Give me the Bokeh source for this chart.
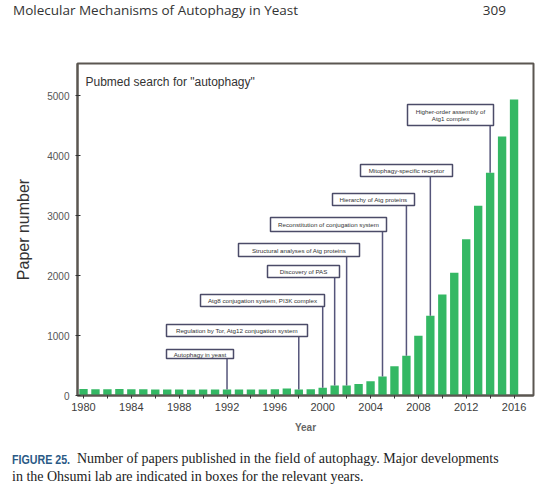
from bokeh.plotting import figure
from bokeh.models import Label, FixedTicker, Range1d, ColumnDataSource, Div
from bokeh.layouts import column
from bokeh.core.properties import value
from bokeh.embed import file_html
from bokeh.resources import INLINE

# ---------------- data ----------------
years = [1980, 1981, 1982, 1983, 1984, 1985, 1986, 1987, 1988, 1989,
         1990, 1991, 1992, 1993, 1994, 1995, 1996, 1997, 1998, 1999,
         2000, 2001, 2002, 2003, 2004, 2005, 2006, 2007, 2008, 2009,
         2010, 2011, 2012, 2013, 2014, 2015, 2016]
papers = [110, 105, 105, 108, 105, 105, 100, 102, 100, 95,
          100, 98, 102, 100, 98, 100, 105, 115, 100, 105,
          130, 167, 167, 192, 238, 318, 486, 664, 994, 1328,
          1683, 2044, 2606, 3161, 3711, 4317, 4933]

x_tick_labels = [1980, 1984, 1988, 1992, 1996, 2000, 2004, 2008, 2012, 2016]
x_minor_ticks = [1982, 1986, 1990, 1994, 1998, 2002, 2006, 2010, 2014]
y_tick_labels = [0, 1000, 2000, 3000, 4000, 5000]

event_years = [1992, 1998, 2000, 2001, 2002, 2005, 2007, 2009, 2014]
event_texts = [
    "Autophagy in yeast",
    "Regulation by Tor, Atg12 conjugation system",
    "Atg8 conjugation system, PI3K complex",
    "Discovery of PAS",
    "Structural analyses of Atg proteins",
    "Reconstitution of conjugation system",
    "Hierarchy of Atg proteins",
    "Mitophagy-specific receptor",
    "Higher-order assembly of\nAtg1 complex",
]

header_left = "Molecular Mechanisms of Autophagy in Yeast"
page_number = "309"
caption_label = "FIGURE 25."
caption_line1 = "Number of papers published in the field of autophagy. Major developments"
caption_line2 = "in the Ohsumi lab are indicated in boxes for the relevant years."

# ---------------- layout (page pixels) ----------------
W = 556
HEADER_H, MAIN_H, CAPTION_H = 36, 404, 60
MAIN_TOP = HEADER_H

PX_1980 = 83.0      # page x of year 1980
PX_PER_YEAR = 11.96
PY_ZERO = 395.0     # page y of value 0
PX_PER_UNIT = 0.06  # pixels per paper

def dx(px):
    return 1980 + (px - PX_1980) / PX_PER_YEAR

def dy(py):
    return (PY_ZERO - py) / PX_PER_UNIT

# annotation boxes: left, right, top, bottom (page px)
box_px = [
    (166, 233, 349, 358),
    (166, 307, 324, 336),
    (200, 324, 294, 306),
    (267, 339, 265, 277),
    (238, 359, 243, 256),
    (270, 386, 217, 231),
    (332, 414, 193, 205),
    (360, 452, 164, 176),
    (407, 493, 104, 125),
]

FRAME_L, FRAME_R, FRAME_T, FRAME_B = 77, 533, 63, 395

# ---------------- header ----------------
hdr = Div(width=W, height=HEADER_H, margin=(0, 0, 0, 0), text=(
    '<div style="position:relative;width:556px;height:36px;font-family:\'Open Sans\';'
    'font-size:13.5px;color:#333333;line-height:1.2;">'
    f'<span style="position:absolute;left:13px;top:2px;white-space:nowrap;">{header_left}</span>'
    f'<span style="position:absolute;right:50px;top:2px;white-space:nowrap;">{page_number}</span>'
    '</div>'))

# ---------------- main chart ----------------
p = figure(width=W, height=MAIN_H, output_backend="svg", toolbar_location=None,
           x_range=Range1d(dx(FRAME_L), dx(FRAME_R)),
           y_range=Range1d(dy(FRAME_B), dy(FRAME_T)),
           min_border_left=FRAME_L, min_border_right=W - FRAME_R,
           min_border_top=FRAME_T - MAIN_TOP,
           min_border_bottom=MAIN_TOP + MAIN_H - FRAME_B)
p.background_fill_color = "white"
p.border_fill_color = "white"
p.xgrid.visible = False
p.ygrid.visible = False
p.outline_line_color = "#5b5651"
p.outline_line_width = 2

AX = "#5b5651"
xa = p.xaxis[0]
xa.ticker = FixedTicker(ticks=x_tick_labels, minor_ticks=x_minor_ticks)
xa.axis_line_color = AX
xa.axis_line_width = 2
xa.major_tick_in = 0
xa.major_tick_out = 3
xa.minor_tick_in = 0
xa.minor_tick_out = 3
xa.major_tick_line_color = "#333333"
xa.minor_tick_line_color = "#333333"
xa.major_label_text_font = "Liberation Sans"
xa.major_label_text_font_size = "11px"
xa.major_label_text_color = "#3d3d3d"
xa.major_label_standoff = 4
xa.axis_label = "Year"
xa.axis_label_text_font = "Liberation Sans"
xa.axis_label_text_font_size = "10px"
xa.axis_label_text_font_style = "bold"
xa.axis_label_text_color = "#666666"
xa.axis_label_standoff = 8

ya = p.yaxis[0]
ya.ticker = FixedTicker(ticks=y_tick_labels)
ya.axis_line_color = AX
ya.axis_line_width = 2
ya.major_tick_in = 3
ya.major_tick_out = 2
ya.minor_tick_line_color = None
ya.major_tick_line_color = "#333333"
ya.major_label_text_font = "Liberation Sans"
ya.major_label_text_font_size = "10px"
ya.major_label_text_color = "#555555"
ya.major_label_standoff = 6
ya.axis_label = "Paper number"
ya.axis_label_text_font = "Liberation Sans"
ya.axis_label_text_font_size = "16px"
ya.axis_label_text_font_style = "normal"
ya.axis_label_text_color = "#333333"
ya.axis_label_standoff = 12

src = ColumnDataSource(dict(x=years, top=papers))
p.vbar(x="x", top="top", width=0.7, source=src, fill_color="#34b864", line_color=None)

# connectors from box bottom down to the bar top of the event year
year_to_val = dict(zip(years, papers))
seg = ColumnDataSource(dict(
    x0=event_years, x1=event_years,
    y0=[dy(b[3]) for b in box_px],
    y1=[year_to_val[y] for y in event_years],
))
p.segment(x0="x0", y0="y0", x1="x1", y1="y1", source=seg, line_color="#55557a", line_width=1.5)

boxes = ColumnDataSource(dict(
    left=[dx(b[0]) for b in box_px], right=[dx(b[1]) for b in box_px],
    top=[dy(b[2]) for b in box_px], bottom=[dy(b[3]) for b in box_px],
    cx=[dx((b[0] + b[1]) / 2) for b in box_px], cy=[dy((b[2] + b[3]) / 2) for b in box_px],
    txt=event_texts,
))
p.quad(left="left", right="right", top="top", bottom="bottom", source=boxes,
       fill_color="white", line_color="#4b4b68", line_width=1.5)
p.text(x="cx", y="cy", text="txt", source=boxes, text_align="center", text_baseline="middle",
       text_font=value("Liberation Sans"), text_font_size="6.2px", text_color="#333333",
       text_line_height=1.1)

p.add_layout(Label(x=dx(85), y=dy(81), text='Pubmed search for "autophagy"',
                   text_font="Liberation Sans", text_font_size="12px", text_color="#333333",
                   text_baseline="alphabetic"))

# ---------------- caption ----------------
cap = Div(width=W, height=CAPTION_H, margin=(0, 0, 0, 0), text=(
    '<div style="position:relative;width:556px;height:60px;line-height:1;">'
    '<span style="position:absolute;left:12px;top:13px;white-space:nowrap;'
    'font-family:\'Liberation Sans\';font-weight:bold;font-size:13.5px;color:#2b5a86;'
    f'transform:scaleX(0.79);transform-origin:0 0;">{caption_label}</span>'
    '<span style="position:absolute;left:77px;top:12px;white-space:nowrap;'
    f'font-family:\'Liberation Serif\';font-size:14px;color:#222222;">{caption_line1}</span>'
    '<span style="position:absolute;left:12px;top:30px;white-space:nowrap;'
    f'font-family:\'Liberation Serif\';font-size:14px;color:#222222;">{caption_line2}</span>'
    '</div>'))

layout = column(hdr, p, cap, spacing=0)
open("out.html", "w").write(file_html(layout, INLINE))
